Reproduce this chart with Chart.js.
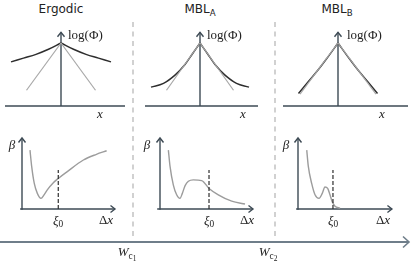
<!DOCTYPE html>
<html>
<head>
<meta charset="utf-8">
<script src="https://cdn.jsdelivr.net/npm/chart.js@4/dist/chart.umd.min.js"></script>
<style>
  html, body { margin: 0; padding: 0; background: #fff; }
  #wrap { position: relative; width: 415px; height: 261px; overflow: hidden; }
  #wrap canvas { position: absolute; }
  #wrap svg { position: absolute; left: 0; top: 0; }
  .t { position: absolute; white-space: nowrap; line-height: 1; color: #222; transform: translate(-50%, -50%); }
  .t.l { transform: translate(0, -50%); }
  .title { font-family: "DejaVu Sans", sans-serif; font-size: 12px; }
  .m { font-family: "Liberation Serif", serif; font-size: 13px; }
  .t sub { font-size: 0.72em; vertical-align: -0.3em; line-height: 0; }
  .t sub sub { font-size: 0.8em; vertical-align: -0.2em; }
</style>
</head>
<body>
<div id="wrap">
  <svg width="415" height="261">
    <line x1="133" y1="22" x2="133" y2="240" stroke="#c2c2c2" stroke-width="1.5" stroke-dasharray="5 4.5"/>
    <line x1="275" y1="22" x2="275" y2="240" stroke="#c2c2c2" stroke-width="1.5" stroke-dasharray="5 4.5"/>
    <line x1="0" y1="242" x2="409" y2="242" stroke="#6f7e8a" stroke-width="2"/>
    <polyline points="403,236.5 409,242 403,247.5" fill="none" stroke="#6f7e8a" stroke-width="1.6"/>
  </svg>
</div>
<script>
const AXIS = '#3d4a54';
const DARK = '#2e2e2e';
const GRAY = '#a8a8a8';

// top row: log(Phi) against x, right half (x >= 0), mirrored for x < 0
const ergDarkX = [0, 0.25, 0.5, 0.75, 1.0];
const ergDarkY = [1, 0.90, 0.82, 0.76, 0.70];
const ergGrayX = [0, 0.69];
const ergGrayY = [1, 0.25];

const mblaDarkX = [0, 0.15, 0.3, 0.5, 0.73, 0.98];
const mblaDarkY = [1, 0.83, 0.66, 0.49, 0.36, 0.30];
const mblaGrayX = [0, 0.67];
const mblaGrayY = [1, 0.25];

const mblbDarkX = [0, 0.2, 0.4, 0.6, 0.79];
const mblbDarkY = [1, 0.78, 0.57, 0.38, 0.20];
const mblbGrayX = [0, 0.76];
const mblbGrayY = [1, 0.19];

// bottom row: beta against delta x
const ergBetaX = [0.086, 0.104, 0.132, 0.165, 0.204, 0.237, 0.272, 0.337, 0.39, 0.48, 0.66, 0.80, 0.91];
const ergBetaY = [0.83, 0.60, 0.36, 0.22, 0.15, 0.20, 0.27, 0.37, 0.43, 0.52, 0.69, 0.77, 0.82];

const mblaBetaX = [0.09, 0.108, 0.143, 0.179, 0.215, 0.24, 0.27, 0.305, 0.358, 0.448, 0.527, 0.627, 0.771, 0.914];
const mblaBetaY = [0.83, 0.60, 0.34, 0.20, 0.15, 0.22, 0.33, 0.39, 0.41, 0.40, 0.29, 0.20, 0.11, 0.07];

const mblbBetaX = [0.094, 0.111, 0.147, 0.183, 0.226, 0.261, 0.29, 0.319, 0.344, 0.369, 0.398, 0.452];
const mblbBetaY = [0.83, 0.60, 0.36, 0.20, 0.15, 0.22, 0.31, 0.29, 0.20, 0.10, 0.04, 0.01];

const xi0 = [0.39, 0.527, 0.376];
const xi0Top = 0.55;

const wrap = document.getElementById('wrap');

const pts = (xs, ys, s = 1) => xs.map((v, i) => ({ x: s * v, y: ys[i] }));

function chevron(ctx, x, y, dir) {
  const a = 4.5, b = 3.5;
  ctx.beginPath();
  if (dir === 'up') {
    ctx.moveTo(x - b, y + a); ctx.lineTo(x, y); ctx.lineTo(x + b, y + a);
  } else {
    ctx.moveTo(x - a, y - b); ctx.lineTo(x, y); ctx.lineTo(x - a, y + b);
  }
  ctx.stroke();
}

const arrowAxes = {
  id: 'arrows',
  beforeDatasetsDraw(chart, args, o) {
    const { ctx, scales: { x, y } } = chart;
    const px = x.getPixelForValue(0), py = y.getPixelForValue(0);
    ctx.save();
    ctx.strokeStyle = AXIS;
    ctx.lineWidth = 1.4;
    const h1 = x.getPixelForValue(o.h[0]), h2 = x.getPixelForValue(o.h[1]);
    ctx.beginPath(); ctx.moveTo(h1, py); ctx.lineTo(h2, py); ctx.stroke();
    if (o.hArrow) chevron(ctx, h2, py, 'right');
    const v1 = y.getPixelForValue(o.v[0]), v2 = y.getPixelForValue(o.v[1]);
    ctx.beginPath(); ctx.moveTo(px, v1); ctx.lineTo(px, v2); ctx.stroke();
    chevron(ctx, px, v2, 'up');
    ctx.restore();
  }
};

function line(data, color, width, extra) {
  return Object.assign({
    data, borderColor: color, borderWidth: width, pointRadius: 0,
    fill: false, clip: false, tension: 0.4
  }, extra || {});
}

function panel(box, origin, unit, datasets, axes) {
  const cv = document.createElement('canvas');
  cv.width = box.w; cv.height = box.h;
  cv.style.left = box.l + 'px'; cv.style.top = box.t + 'px';
  wrap.appendChild(cv);
  return new Chart(cv.getContext('2d'), {
    type: 'line',
    data: { datasets },
    options: {
      responsive: false,
      animation: false,
      events: [],
      layout: { padding: 0 },
      plugins: { legend: { display: false }, tooltip: { enabled: false }, arrows: axes },
      scales: {
        x: { type: 'linear', display: false,
             min: (box.l - origin.x) / unit.x, max: (box.l + box.w - origin.x) / unit.x },
        y: { type: 'linear', display: false,
             min: (origin.y - box.t - box.h) / unit.y, max: (origin.y - box.t) / unit.y }
      }
    },
    plugins: [arrowAxes]
  });
}

function topSets(dx, dy, gx, gy) {
  return [
    line(pts(gx, gy), GRAY, 1.2, { tension: 0 }),
    line(pts(gx, gy, -1), GRAY, 1.2, { tension: 0 }),
    line(pts(dx, dy), DARK, 1.5),
    line(pts(dx, dy, -1), DARK, 1.5)
  ];
}

function bottomSets(bx, by, xi) {
  return [
    line([{ x: xi, y: 0 }, { x: xi, y: xi0Top }], DARK, 1.2, { tension: 0, borderDash: [4, 2] }),
    line(pts(bx, by), '#9c9c9c', 1.4, { cubicInterpolationMode: 'monotone' })
  ];
}

const topUnit = { x: 50, y: 63 };
const botUnit = { x: 93, y: 71 };

panel({ l: 0, t: 24, w: 132, h: 88 }, { x: 61, y: 106 }, topUnit,
  topSets(ergDarkX, ergDarkY, ergGrayX, ergGrayY), { h: [-1.12, 1.28], v: [0, 1.17] });
panel({ l: 138, t: 24, w: 130, h: 88 }, { x: 200, y: 106 }, topUnit,
  topSets(mblaDarkX, mblaDarkY, mblaGrayX, mblaGrayY), { h: [-1.1, 1.16], v: [0, 1.17] });
panel({ l: 279, t: 24, w: 134, h: 88 }, { x: 338, y: 106 }, topUnit,
  topSets(mblbDarkX, mblbDarkY, mblbGrayX, mblbGrayY), { h: [-1.1, 1.4], v: [0, 1.17] });

panel({ l: 14, t: 132, w: 110, h: 82 }, { x: 22, y: 209 }, botUnit,
  bottomSets(ergBetaX, ergBetaY, xi0[0]), { h: [-0.02, 1.0], hArrow: true, v: [-0.01, 1.0] });
panel({ l: 152, t: 132, w: 110, h: 82 }, { x: 160, y: 209 }, botUnit,
  bottomSets(mblaBetaX, mblaBetaY, xi0[1]), { h: [-0.03, 1.0], hArrow: true, v: [-0.01, 1.0] });
panel({ l: 290, t: 132, w: 110, h: 82 }, { x: 298, y: 209 }, botUnit,
  bottomSets(mblbBetaX, mblbBetaY, xi0[2]), { h: [-0.02, 1.01], hArrow: true, v: [-0.01, 1.0] });

function label(html, x, y, cls) {
  const d = document.createElement('div');
  d.className = 't ' + cls;
  d.innerHTML = html;
  d.style.left = x + 'px';
  d.style.top = y + 'px';
  wrap.appendChild(d);
}

const titles = ['Ergodic', 'MBL<sub>A</sub>', 'MBL<sub>B</sub>'];
const titleX = [61, 200, 337];
const logX = [68, 207, 347];
const xLabX = [100, 243, 382];
const betaX = [12, 147, 286];
const dxX = [106, 247, 383];
const xiPix = [58, 209, 333];

titles.forEach((s, i) => {
  label(s, titleX[i], 9, 'title');
  label('log(Φ)', logX[i], 34, 'm l');
  label('<i>x</i>', xLabX[i], 113, 'm');
  label('<i>β</i>', betaX[i], 144, 'm');
  label('<i>ξ</i><sub>0</sub>', xiPix[i], 220, 'm');
  label('Δ<i>x</i>', dxX[i], 219, 'm');
});
label('<i>W</i><sub>c<sub>1</sub></sub>', 127, 252, 'm');
label('<i>W</i><sub>c<sub>2</sub></sub>', 268, 252, 'm');
</script>
</body>
</html>
